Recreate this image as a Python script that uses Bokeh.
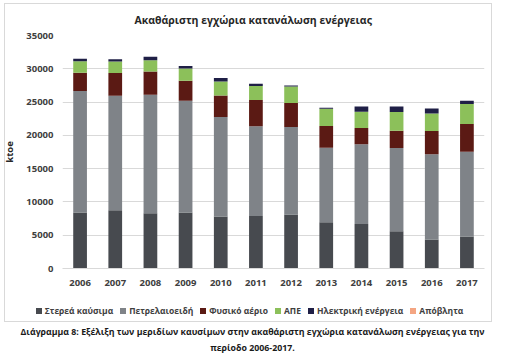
from bokeh.plotting import figure
from bokeh.models import FixedTicker, Div
from bokeh.layouts import column
from bokeh.embed import file_html
from bokeh.resources import INLINE

years = ["2006", "2007", "2008", "2009", "2010", "2011", "2012", "2013", "2014", "2015", "2016", "2017"]
solid = [8400, 8750, 8300, 8400, 7800, 7900, 8100, 6950, 6700, 5600, 4350, 4800]
petroleum = [18250, 17200, 17800, 16800, 14950, 13450, 13150, 11200, 11950, 12500, 12800, 12750]
natural_gas = [2750, 3400, 3500, 3000, 3250, 3950, 3600, 3250, 2450, 2600, 3500, 4150]
renewables = [1750, 1750, 1700, 1850, 2100, 2100, 2500, 2600, 2450, 2800, 2650, 3000]
electricity = [350, 350, 500, 350, 500, 350, 150, 150, 800, 850, 750, 500]
waste = [0, 0, 0, 0, 0, 0, 0, 0, 0, 0, 0, 0]

series_names = ["Στερεά καύσιμα", "Πετρελαιοειδή", "Φυσικό αέριο", "ΑΠΕ", "Ηλεκτρική ενέργεια", "Απόβλητα"]
series_keys = ["solid", "petroleum", "natural_gas", "renewables", "electricity", "waste"]
colors = ["#474a4f", "#7f8388", "#5b1a14", "#8cc05a", "#1f1f46", "#f4a582"]
y_ticks = [0, 5000, 10000, 15000, 20000, 25000, 30000, 35000]

title_text = "Ακαθάριστη εγχώρια κατανάλωση ενέργειας"
caption_lines = ["Διάγραμμα 8: Εξέλιξη των μεριδίων καυσίμων στην ακαθάριστη εγχώρια κατανάλωση ενέργειας για την",
                 "περίοδο 2006-2017."]

data = dict(year=years, solid=solid, petroleum=petroleum, natural_gas=natural_gas,
            renewables=renewables, electricity=electricity, waste=waste)

FONT = "Open Sans"

p = figure(width=505, height=290, x_range=years, y_range=(0, 35000),
           output_backend="svg", toolbar_location=None,
           min_border_left=57, min_border_right=21, min_border_top=35, min_border_bottom=22)
p.outline_line_color = None

p.vbar_stack(series_keys, x="year", width=0.39, source=data,
             fill_color=colors, line_color=None)

p.title.text = title_text
p.title.text_font = FONT
p.title.text_font_size = "10.5px"
p.title.text_font_style = "bold"
p.title.text_color = "#262626"
p.title.align = "left"
p.title.offset = 72
p.title.standoff = 18

p.yaxis.ticker = FixedTicker(ticks=y_ticks)
p.yaxis.axis_label = "ktoe"
p.yaxis.axis_label_text_font = FONT
p.yaxis.axis_label_text_font_size = "9.5px"
p.yaxis.axis_label_text_font_style = "bold"
p.yaxis.axis_label_text_color = "#262626"
p.yaxis.axis_label_standoff = 7
p.yaxis.axis_line_color = None
p.yaxis.major_tick_line_color = None
p.yaxis.minor_tick_line_color = None
p.yaxis.major_tick_out = 0
p.yaxis.major_label_standoff = 9
p.yaxis.major_label_text_font = FONT
p.yaxis.major_label_text_font_size = "9.5px"
p.yaxis.major_label_text_font_style = "bold"
p.yaxis.major_label_text_color = "#404040"

p.xaxis.axis_line_color = "#d9d9d9"
p.xaxis.major_tick_line_color = None
p.xaxis.major_tick_out = 0
p.xaxis.major_label_standoff = 11
p.xaxis.major_label_text_font = FONT
p.xaxis.major_label_text_font_size = "9.5px"
p.xaxis.major_label_text_font_style = "bold"
p.xaxis.major_label_text_color = "#404040"

p.xgrid.grid_line_color = None
p.ygrid.grid_line_color = "#d9d9d9"

# legend (swatch + label per series) and caption, below the chart
legend_html = "".join(
    '<span style="display:inline-block;width:6px;height:6px;background:%s;'
    'margin-right:3px;vertical-align:middle;position:relative;top:-1px"></span>'
    '<span style="margin-right:%dpx">%s</span>' % (c, 7 if i < len(series_names) - 1 else 0, n)
    for i, (c, n) in enumerate(zip(colors, series_names))
)
line_style = ("position:absolute;left:0;height:16px;line-height:16px;white-space:nowrap;"
              "text-align:center;font-family:'Open Sans';font-weight:bold;")
html = (
    '<div style="position:relative;width:505px;height:70px;">'
    '<div style="position:absolute;left:4px;top:-287px;width:488px;height:319px;'
    'border:1px solid #d9d9d9;box-sizing:border-box;pointer-events:none;"></div>'
    '<div style="%s top:13px;width:499px;font-size:8.5px;color:#404040;">%s</div>'
    '<div style="%s top:34px;width:505px;font-size:8.8px;color:#1a1a1a;">%s</div>'
    '<div style="%s top:50px;width:505px;font-size:8.8px;color:#1a1a1a;">%s</div>'
    '</div>'
) % (line_style, legend_html, line_style, caption_lines[0], line_style, caption_lines[1])

below = Div(text=html, width=505, height=70,
            styles={"margin": "0", "padding": "0", "overflow": "visible"})

layout = column(p, below, spacing=0)
open("out.html", "w").write(file_html(layout, INLINE))
